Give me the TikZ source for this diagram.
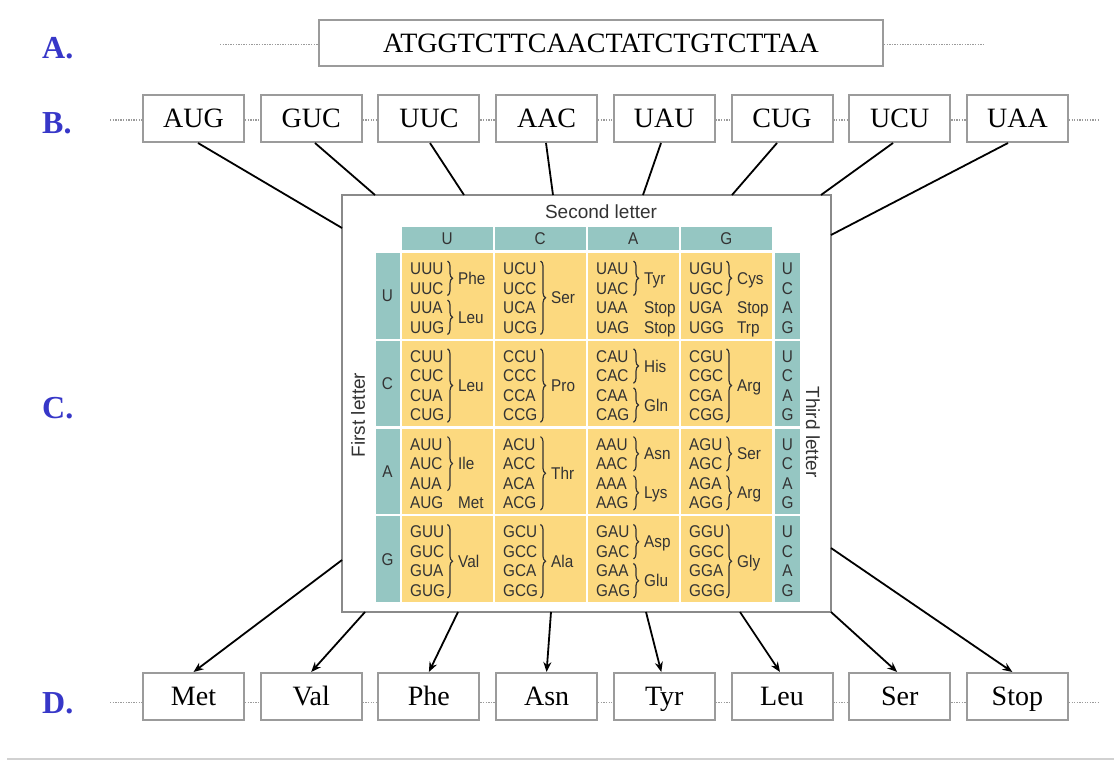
\documentclass[tikz,border=0pt]{standalone}
\usepackage{fontspec}
\setmainfont{Liberation Serif}
\newfontfamily\sansf[FakeStretch=0.9]{Liberation Sans}
\newfontfamily\sansw{Liberation Sans}
\usetikzlibrary{decorations.pathreplacing,arrows.meta,calc}
\definecolor{tealc}{HTML}{95C6C2}
\definecolor{yelc}{HTML}{FCD97F}
\definecolor{boxgray}{HTML}{9B9B9B}
\definecolor{framegray}{HTML}{8A8A8A}
\definecolor{lblue}{HTML}{3737C8}
\definecolor{tabtext}{HTML}{333333}
\tikzset{
  seqbox/.style={draw=boxgray, line width=2pt, fill=white, inner sep=0pt,
    font=\fontsize{28}{30}\selectfont, text height=18.5pt, text depth=0pt},
  lbl/.style={anchor=base west, inner sep=0pt, text=lblue, font=\bfseries\fontsize{32}{34}\selectfont},
  dotline/.style={draw=boxgray, line width=1.3pt, dash pattern=on 1.3pt off 1.3pt},
  conn/.style={draw=black, line width=1.8pt},
  arr/.style={draw=black, line width=1.8pt, -{Stealth[length=10pt,width=8pt]}},
  framebox/.style={draw=framegray, line width=2pt, fill=white, minimum width=489pt, minimum height=417pt, inner sep=0pt},
  ycell/.style={fill=yelc, draw=none, inner sep=0pt, minimum width=90.5pt, minimum height=85.5pt},
  tcell/.style={fill=tealc, draw=none, inner sep=0pt, text=tabtext, font=\sansf\fontsize{17}{19}\selectfont},
  tlet/.style={anchor=base, inner sep=0pt, text=tabtext, font=\sansf\fontsize{17}{19}\selectfont},
  codon/.style={anchor=base west, inner sep=0pt, text=tabtext, font=\sansf\fontsize{17}{19}\selectfont},
  aa/.style={anchor=base west, inner sep=0pt, text=tabtext, font=\sansf\fontsize{17}{19}\selectfont},
  axislbl/.style={inner sep=0pt, text=tabtext, font=\sansw\fontsize{19}{21}\selectfont},
  brc/.style={decorate, decoration={brace, amplitude=5pt}, line width=1.2pt, draw=tabtext}
}
\newcommand\cod[4]{\node[codon] (c-#4) at ({402+93*#1+8},{253+87.8*#2+15.5+19.5*#3+6}) {#4};}
\newcommand\cells[6]{\cod{#1}{#2}{0}{#3}\cod{#1}{#2}{1}{#4}\cod{#1}{#2}{2}{#5}\cod{#1}{#2}{3}{#6}}
\newcommand\grp[5]{%
  \draw[brc] ({402+93*#1+45.5},{253+87.8*#2+15.5+19.5*#3-7.5}) -- ({402+93*#1+45.5},{253+87.8*#2+15.5+19.5*#4+7.5});
  \node[aa] (a-#1-#2-#3) at ({402+93*#1+56},{253+87.8*#2+15.5+19.5*(#3+#4)/2+6}) {#5};}
\newcommand\lone[4]{\node[aa] (a-#1-#2-#3) at ({402+93*#1+56},{253+87.8*#2+15.5+19.5*#3+6}) {#4};}
\begin{document}
\begin{tikzpicture}[x=1pt,y=-1pt]
\useasboundingbox (0,0) rectangle (1114,764);
% row labels
\node[lbl] (lA) at (42,58) {A.};
\node[lbl] (lB) at (42,133.3) {B.};
\node[lbl] (lC) at (42,418) {C.};
\node[lbl] (lD) at (42,713) {D.};
% A row
\node[seqbox, minimum width=564pt, minimum height=46pt] (A) at (601,42.8) {ATGGTCTTCAACTATCTGTCTTAA};
\coordinate (aL) at (220,44.5);
\coordinate (aR) at (985,44.5);
\draw[dotline] (aL) -- (aL -| A.west);
\draw[dotline] (A.east |- aR) -- (aR);
% B row
\foreach \t [count=\i] in {AUG,GUC,UUC,AAC,UAU,CUG,UCU,UAA}
  \node[seqbox, minimum width=101pt, minimum height=47pt] (b\i) at ({193.5+117.7*(\i-1)},118.5) {\t};
\coordinate (bL) at (110,120);
\coordinate (bR) at (1100,120);
\draw[dotline] (bL) -- (bL -| b1.west);
\foreach \i [evaluate=\i as \j using int(\i+1)] in {1,...,7}
  \draw[dotline] (b\i.east |- bL) -- (b\j.west |- bL);
\draw[dotline] (b8.east |- bR) -- (bR);
% D row
\foreach \t [count=\i] in {Met,Val,Phe,Asn,Tyr,Leu,Ser,Stop}
  \node[seqbox, minimum width=101pt, minimum height=47pt] (d\i) at ({193.5+117.7*(\i-1)},696.5) {\t};
\coordinate (dL) at (110,702.5);
\coordinate (dR) at (1100,702.5);
\draw[dotline] (dL) -- (dL -| d1.west);
\foreach \i [evaluate=\i as \j using int(\i+1)] in {1,...,7}
  \draw[dotline] (d\i.east |- dL) -- (d\j.west |- dL);
\draw[dotline] (d8.east |- dR) -- (dR);
% table frame
\node[framebox] (tab) at (586.5,403.5) {};
% connectors top
\coordinate (t1) at (342,228);
\coordinate (t2) at (375,195);
\coordinate (t3) at (464,195);
\coordinate (t4) at (553,195);
\coordinate (t5) at (643,195);
\coordinate (t6) at (732,195);
\coordinate (t7) at (821,195);
\coordinate (t8) at (831,235);
\draw[conn] ([xshift=4.5pt]b1.south) -- (t1);
\draw[conn] ([xshift=3.8pt]b2.south) -- (t2);
\draw[conn] ([xshift=1.1pt]b3.south) -- (t3);
\draw[conn] ([xshift=-0.6pt]b4.south) -- (t4);
\draw[conn] ([xshift=-3.3pt]b5.south) -- (t5);
\draw[conn] ([xshift=-5pt]b6.south) -- (t6);
\draw[conn] ([xshift=-6.7pt]b7.south) -- (t7);
\draw[conn] ([xshift=-9.4pt]b8.south) -- (t8);
% arrows bottom
\coordinate (s1) at (342,560);
\coordinate (s2) at (365,612);
\coordinate (s3) at (458,612);
\coordinate (s4) at (551,612);
\coordinate (s5) at (646,612);
\coordinate (s6) at (740,612);
\coordinate (s7) at (831,612);
\coordinate (s8) at (831,548);
\draw[arr] (s1) -- (d1.north);
\draw[arr] (s2) -- (d2.north);
\draw[arr] (s3) -- (d3.north);
\draw[arr] (s4) -- (d4.north);
\draw[arr] (s5) -- ([xshift=-3pt]d5.north);
\draw[arr] (s6) -- ([xshift=-2pt]d6.north);
\draw[arr] (s7) -- ([xshift=-2.5pt]d7.north);
\draw[arr] (s8) -- ([xshift=-5pt]d8.north);
% table grid
\foreach \i in {0,...,3}
  \foreach \j in {0,...,3}
    \node[ycell] (y-\i-\j) at ({402+93*\j+45.25},{253+87.8*\i+42.75}) {};
\foreach \l [count=\j from 0] in {U,C,A,G} {
  \node[tcell, minimum width=90.5pt, minimum height=23pt] (h-\l) at ({402+93*\j+45.25},238.5) {\l};
  \node[tcell, minimum width=24pt, minimum height=85.5pt] (l-\l) at (387.5,{253+87.8*\j+42.75}) {\l};
  \node[tcell, minimum width=25pt, minimum height=85.5pt] (r-\l) at (787.5,{253+87.8*\j+42.75}) {};
  \foreach \m [count=\k from 0] in {U,C,A,G}
    \node[tlet] (r-\l-\m) at (787.5,{253+87.8*\j+15.5+19.5*\k+6}) {\m};
}
\node[axislbl] (second) at (601,212) {Second letter};
\node[axislbl, rotate=90] (first) at (358,415) {First letter};
\node[axislbl, rotate=-90] (third) at (813,432) {Third letter};
% row U
\cells{0}{0}{UUU}{UUC}{UUA}{UUG}\grp{0}{0}{0}{1}{Phe}\grp{0}{0}{2}{3}{Leu}
\cells{1}{0}{UCU}{UCC}{UCA}{UCG}\grp{1}{0}{0}{3}{Ser}
\cells{2}{0}{UAU}{UAC}{UAA}{UAG}\grp{2}{0}{0}{1}{Tyr}\lone{2}{0}{2}{Stop}\lone{2}{0}{3}{Stop}
\cells{3}{0}{UGU}{UGC}{UGA}{UGG}\grp{3}{0}{0}{1}{Cys}\lone{3}{0}{2}{Stop}\lone{3}{0}{3}{Trp}
% row C
\cells{0}{1}{CUU}{CUC}{CUA}{CUG}\grp{0}{1}{0}{3}{Leu}
\cells{1}{1}{CCU}{CCC}{CCA}{CCG}\grp{1}{1}{0}{3}{Pro}
\cells{2}{1}{CAU}{CAC}{CAA}{CAG}\grp{2}{1}{0}{1}{His}\grp{2}{1}{2}{3}{Gln}
\cells{3}{1}{CGU}{CGC}{CGA}{CGG}\grp{3}{1}{0}{3}{Arg}
% row A
\cells{0}{2}{AUU}{AUC}{AUA}{AUG}\grp{0}{2}{0}{2}{Ile}\lone{0}{2}{3}{Met}
\cells{1}{2}{ACU}{ACC}{ACA}{ACG}\grp{1}{2}{0}{3}{Thr}
\cells{2}{2}{AAU}{AAC}{AAA}{AAG}\grp{2}{2}{0}{1}{Asn}\grp{2}{2}{2}{3}{Lys}
\cells{3}{2}{AGU}{AGC}{AGA}{AGG}\grp{3}{2}{0}{1}{Ser}\grp{3}{2}{2}{3}{Arg}
% row G
\cells{0}{3}{GUU}{GUC}{GUA}{GUG}\grp{0}{3}{0}{3}{Val}
\cells{1}{3}{GCU}{GCC}{GCA}{GCG}\grp{1}{3}{0}{3}{Ala}
\cells{2}{3}{GAU}{GAC}{GAA}{GAG}\grp{2}{3}{0}{1}{Asp}\grp{2}{3}{2}{3}{Glu}
\cells{3}{3}{GGU}{GGC}{GGA}{GGG}\grp{3}{3}{0}{3}{Gly}
% bottom rule
\draw[draw=black!18, line width=2pt] (7,759) -- (1114,759);
\end{tikzpicture}
\end{document}
